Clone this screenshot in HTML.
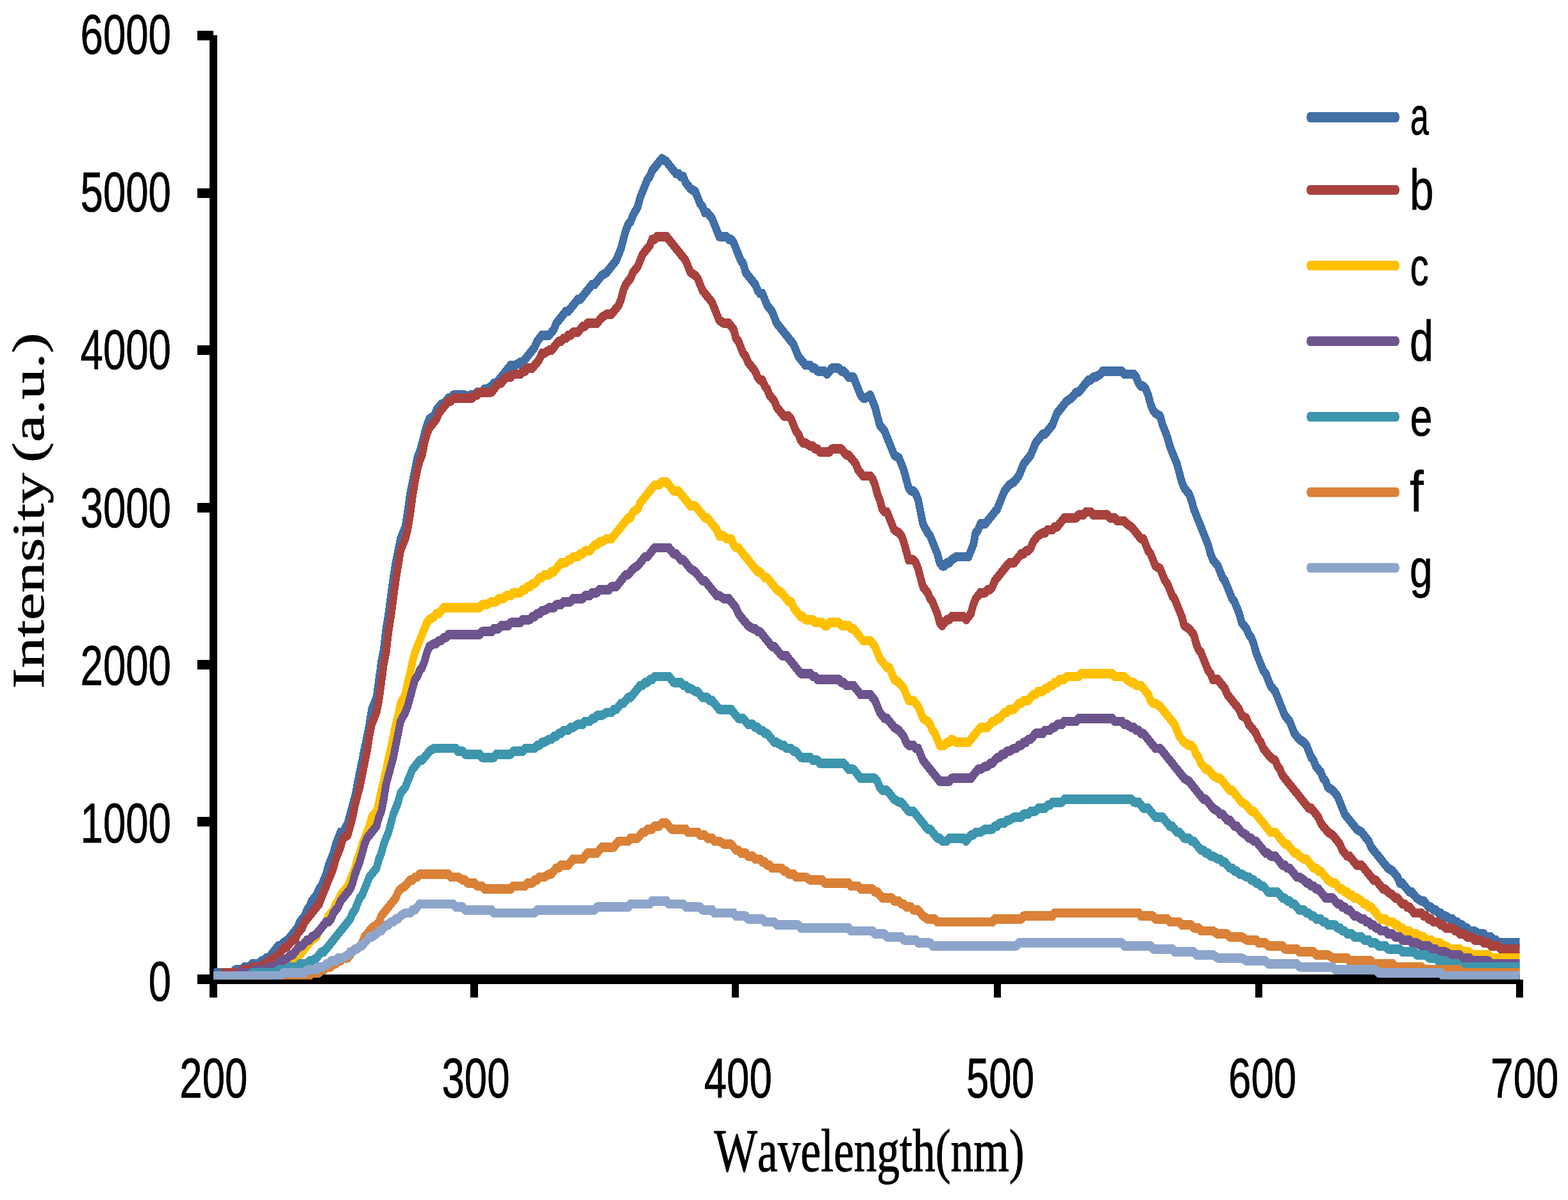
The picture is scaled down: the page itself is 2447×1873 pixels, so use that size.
<!DOCTYPE html>
<html lang="en"><head><meta charset="utf-8"><title>Intensity vs Wavelength</title>
<style>
html,body{margin:0;padding:0;background:#fff;}
body{width:2447px;height:1873px;overflow:hidden;}
svg{display:block;}
text{font-kerning:none;text-rendering:geometricPrecision;fill:#000;stroke:#000;stroke-linejoin:round;}
.num{stroke-width:0.8;}.ser{stroke-width:1.0;}
.num{font-family:"Liberation Sans",sans-serif;}
.ser{font-family:"Liberation Serif",serif;}
.crv{fill:none;stroke-linejoin:round;stroke-linecap:butt;}
</style></head><body>
<svg width="2447" height="1873" viewBox="0 0 2447 1873">
<rect x="0" y="0" width="2447" height="1873" fill="#ffffff"/>
<g id="axes" fill="#000000" shape-rendering="crispEdges">
<rect x="327.3" y="55.3" width="12" height="1501.4"/>
<rect x="333.3" y="1521.1" width="2038.3" height="15"/>
<rect x="308" y="48" width="25.3" height="15"/>
<rect x="308" y="293.5" width="25.3" height="15"/>
<rect x="308" y="539" width="25.3" height="15"/>
<rect x="308" y="784.5" width="25.3" height="15"/>
<rect x="308" y="1029.8" width="25.3" height="15"/>
<rect x="308" y="1275.1" width="25.3" height="15"/>
<rect x="308" y="1521.1" width="25.3" height="15"/>
<rect x="327.5" y="1528.6" width="11.6" height="28.1"/>
<rect x="734.2" y="1528.6" width="11.6" height="28.1"/>
<rect x="1141.7" y="1528.6" width="11.6" height="28.1"/>
<rect x="1550.7" y="1528.6" width="11.6" height="28.1"/>
<rect x="1958.8" y="1528.6" width="11.6" height="28.1"/>
<rect x="2365.8" y="1528.6" width="11.6" height="28.1"/>
</g>
<defs><clipPath id="plotclip"><rect x="333.3" y="55.3" width="2038.3" height="1473.5"/></clipPath></defs>
<g id="plot" clip-path="url(#plotclip)">
<g id="curves" class="crv" transform="scale(0.8,1)" stroke-width="14.8" shape-rendering="crispEdges">
<polyline id="series-a" stroke="#416FA6" points="416.6,1523.1 421.2,1518.4 454,1518.4 458.8,1513.8 472.7,1513.8 477.4,1509.1 486.7,1509.1 491.4,1504.4 505.5,1504.4 510.1,1499.8 514.8,1499.8 519.5,1495.1 524.1,1495.1 528.9,1490.4 533.5,1485.7 538.1,1481.1 542.9,1476.4 547.5,1476.4 552.2,1471.7 561.5,1467.1 566.2,1462.4 570.9,1457.7 575.6,1453 580.2,1448.4 584.9,1439 589.6,1434.4 594.2,1429.7 599,1420.3 603.6,1415.7 608.2,1406.3 617.6,1397 622.4,1387.6 627,1383 631.6,1373.6 636.4,1364.3 641,1350.3 645.8,1340.9 650.4,1331.6 655,1317.6 659.7,1308.2 664.4,1298.9 669.1,1298.9 678.4,1284.8 683.1,1270.8 687.8,1256.8 692.5,1242.8 697.1,1224.1 701.7,1205.4 706.5,1186.7 711.1,1168 715.9,1149.4 720.5,1130.7 725.1,1107.3 734.5,1088.6 739.2,1060.6 743.9,1032.6 748.5,1013.9 753.2,981.2 757.9,957.8 762.6,929.8 767.2,901.7 771.9,878.4 776.6,859.7 781.2,841 790.6,822.3 795.2,799 800,770.9 804.6,752.2 809.4,733.6 814,714.9 818.6,705.5 823.4,691.5 828,677.5 832.8,663.5 837.4,654.1 846.7,649.5 851.4,640.1 856.1,635.4 860.8,630.8 865.4,630.8 870.1,626.1 874.7,621.4 879.5,621.4 884.1,616.8 907.5,616.8 912.1,621.4 916.9,616.8 926.2,616.8 930.9,612.1 940.2,612.1 944.9,607.4 949.6,607.4 958.9,602.7 963.6,598.1 968.2,598.1 973,593.4 977.6,588.7 982.2,584 987,579.4 991.6,574.7 996.4,570 1005.6,570 1015,565.4 1019.7,565.4 1024.4,560.7 1029,556 1033.8,551.3 1038.4,546.7 1043.1,542 1047.8,532.7 1052.4,528 1057.1,523.3 1071.1,523.3 1075.8,518.6 1080.5,514 1085.1,504.6 1089.9,500 1094.5,495.3 1099.1,490.6 1103.9,485.9 1108.5,485.9 1113.2,481.3 1117.9,476.6 1127.2,467.2 1131.9,467.2 1136.6,462.6 1141.2,457.9 1145.9,453.2 1150.6,448.6 1155.2,443.9 1160,443.9 1164.6,439.2 1169.2,434.5 1174,429.9 1183.4,425.2 1188,420.5 1192.6,415.9 1197.4,411.2 1202,406.5 1206.8,397.2 1211.4,387.8 1216,373.8 1220.8,359.8 1225.4,350.4 1230.1,345.8 1234.7,336.4 1244.1,322.4 1248.8,308.4 1253.5,299.1 1258.1,289.7 1262.8,280.4 1267.5,275.7 1272.1,266.4 1276.9,261.7 1281.5,257 1286.1,252.3 1290.9,247.7 1300.2,252.3 1304.9,257 1309.5,261.7 1314.2,266.4 1318.9,271 1323.6,271 1328.2,275.7 1332.9,275.7 1337.6,285 1342.2,289.7 1347,294.4 1356.2,299.1 1361,308.4 1365.6,317.7 1370.4,322.4 1375,331.8 1379.6,331.8 1384.4,336.4 1389,341.1 1393.8,350.4 1398.4,359.8 1403,369.1 1417.1,369.1 1421.8,373.8 1426.4,373.8 1431.1,378.5 1435.7,387.8 1440.5,397.2 1445.1,406.5 1449.7,411.2 1454.5,425.2 1459.1,429.9 1468.5,439.2 1473.1,443.9 1477.9,453.2 1482.5,457.9 1487.2,457.9 1491.9,467.2 1496.5,476.6 1501.2,481.3 1505.9,485.9 1510.6,495.3 1515.2,504.6 1524.6,514 1529.2,518.6 1534,523.3 1538.6,528 1543.2,532.7 1548,537.3 1552.6,546.7 1557.4,556 1562,560.7 1566.6,565.4 1571.4,570 1580.7,570 1585.4,574.7 1590,574.7 1594.7,579.4 1608.8,579.4 1613.4,584 1618.1,579.4 1622.8,574.7 1636.8,574.7 1641.5,579.4 1646.1,579.4 1650.9,584 1655.5,588.7 1664.9,588.7 1669.5,598.1 1674.2,607.4 1678.9,616.8 1683.5,621.4 1688.2,621.4 1697.6,616.8 1702.2,626.1 1706.9,635.4 1711.6,649.5 1716.2,663.5 1721,668.1 1725.6,672.8 1730.2,682.2 1735,691.5 1739.6,700.8 1744.4,710.2 1753.6,714.9 1758.4,724.2 1763,733.6 1767.8,747.6 1772.4,761.6 1777,766.3 1781.8,766.3 1786.4,770.9 1791.1,780.3 1795.7,799 1800.4,817.6 1809.7,831.7 1814.5,836.3 1819.1,845.7 1823.8,855 1828.5,864.4 1833.1,878.4 1837.9,883.1 1842.5,883.1 1847.1,878.4 1851.9,878.4 1856.5,873.7 1865.9,869 1889.2,869 1893.9,859.7 1898.6,850.4 1903.2,831.7 1908,827 1912.6,817.6 1922,817.6 1926.6,813 1931.4,808.3 1936,803.6 1940.6,799 1945.4,794.3 1950,784.9 1954.7,775.6 1959.4,766.3 1964,761.6 1968.8,756.9 1978.1,752.2 1982.8,747.6 1987.4,742.9 1992.1,733.6 1996.8,724.2 2001.5,719.5 2006.1,714.9 2010.7,710.2 2015.5,700.8 2020.1,691.5 2024.9,686.8 2034.1,677.5 2038.9,677.5 2043.5,672.8 2048.2,668.1 2052.9,663.5 2057.5,654.1 2062.2,644.8 2066.9,640.1 2071.6,635.4 2076.2,630.8 2080.9,626.1 2090.2,621.4 2095,616.8 2099.6,612.1 2104.2,612.1 2109,607.4 2113.6,602.7 2118.4,598.1 2123,593.4 2127.6,593.4 2132.4,588.7 2137,588.7 2146.4,584 2151,579.4 2188.5,579.4 2193.1,584 2211.9,584 2216.5,588.7 2221.1,598.1 2225.9,602.7 2230.5,602.7 2235.2,607.4 2239.9,616.8 2244.5,630.8 2249.2,640.1 2253.9,644.8 2263.2,649.5 2267.9,663.5 2272.6,672.8 2277.2,682.2 2282,696.2 2286.6,705.5 2291.2,714.9 2296,724.2 2300.6,738.2 2305.4,752.2 2310,761.6 2319.4,770.9 2324,780.3 2328.8,794.3 2333.4,803.6 2338,813 2342.8,822.3 2347.4,831.7 2352.1,841 2356.8,850.4 2361.4,864.4 2366.1,873.7 2375.5,883.1 2380.1,892.4 2384.8,901.7 2389.5,906.4 2394.1,915.8 2398.9,925.1 2403.5,934.4 2408.1,939.1 2412.9,948.5 2417.5,957.8 2422.2,971.8 2431.5,981.2 2436.2,990.5 2440.9,995.2 2445.6,1004.5 2450.2,1018.5 2454.9,1027.9 2459.6,1037.2 2464.2,1046.6 2469,1051.2 2473.6,1060.6 2478.2,1069.9 2487.6,1079.3 2492.4,1088.6 2497,1098 2501.6,1107.3 2506.4,1116.7 2511,1121.3 2515.7,1126 2520.4,1135.3 2525,1144.7 2529.8,1149.4 2534.4,1154 2543.8,1158.7 2548.4,1163.4 2553.1,1172.7 2557.8,1182.1 2562.5,1186.7 2567.1,1196.1 2571.8,1200.8 2576.5,1205.4 2581.1,1214.8 2585.9,1219.4 2590.5,1228.8 2599.9,1233.5 2604.5,1238.1 2609.2,1242.8 2613.9,1252.1 2618.5,1261.5 2623.2,1270.8 2627.9,1275.5 2632.6,1280.2 2637.2,1284.8 2641.9,1289.5 2646.6,1294.2 2656,1298.9 2660.6,1303.5 2665.2,1308.2 2670,1312.9 2674.6,1322.2 2679.4,1326.9 2684,1331.6 2688.6,1336.2 2693.4,1340.9 2698,1345.6 2702.7,1350.3 2707.4,1354.9 2716.8,1359.6 2721.4,1364.3 2726.1,1368.9 2730.7,1378.3 2735.4,1378.3 2740.1,1383 2744.8,1387.6 2749.5,1392.3 2754.1,1392.3 2758.8,1397 2763.5,1401.6 2772.9,1406.3 2777.5,1406.3 2782.1,1411 2786.9,1415.7 2791.5,1415.7 2796.2,1420.3 2800.9,1420.3 2805.5,1425 2810.2,1425 2814.9,1429.7 2819.6,1429.7 2828.9,1434.4 2833.6,1434.4 2838.2,1439 2843,1439 2847.6,1443.7 2852.2,1443.7 2857,1448.4 2861.6,1448.4 2866.4,1453 2875.6,1453 2885,1457.7 2894.4,1457.7 2899,1462.4 2908.4,1462.4 2913.1,1467.1 2917.7,1467.1 2922.4,1471.7 2964.5,1471.7"/>
<polyline id="series-b" stroke="#A8423F" points="416.6,1523.1 430.6,1523.1 435.4,1518.4 468,1518.4 472.7,1513.8 486.7,1513.8 491.4,1509.1 510.1,1509.1 514.8,1504.4 519.5,1504.4 524.1,1499.8 528.9,1499.8 533.5,1495.1 538.1,1495.1 542.9,1490.4 547.5,1485.7 552.2,1481.1 561.5,1476.4 566.2,1471.7 570.9,1467.1 575.6,1467.1 580.2,1457.7 584.9,1453 589.6,1448.4 594.2,1439 599,1434.4 603.6,1429.7 608.2,1425 617.6,1415.7 622.4,1411 627,1401.6 631.6,1392.3 636.4,1383 641,1373.6 645.8,1364.3 650.4,1354.9 655,1340.9 659.7,1331.6 664.4,1322.2 669.1,1308.2 678.4,1303.5 683.1,1289.5 687.8,1275.5 692.5,1256.8 697.1,1242.8 701.7,1228.8 706.5,1210.1 711.1,1191.4 715.9,1172.7 720.5,1149.4 725.1,1130.7 734.5,1112 739.2,1093.3 743.9,1065.3 748.5,1037.2 753.2,1018.5 757.9,985.8 762.6,962.5 767.2,934.4 771.9,906.4 776.6,883.1 781.2,859.7 790.6,841 795.2,827 800,803.6 804.6,775.6 809.4,752.2 814,733.6 818.6,719.5 823.4,710.2 828,691.5 832.8,677.5 837.4,668.1 846.7,658.8 851.4,654.1 856.1,644.8 860.8,640.1 865.4,635.4 870.1,630.8 874.7,626.1 879.5,626.1 884.1,621.4 921.5,621.4 926.2,616.8 930.9,616.8 935.5,612.1 958.9,612.1 963.6,607.4 968.2,602.7 973,598.1 977.6,598.1 982.2,593.4 987,588.7 996.4,588.7 1001,584 1015,584 1019.7,579.4 1024.4,579.4 1029,574.7 1038.4,574.7 1043.1,570 1047.8,565.4 1052.4,560.7 1057.1,551.3 1061.8,551.3 1071.1,546.7 1075.8,546.7 1080.5,542 1085.1,537.3 1089.9,532.7 1094.5,532.7 1099.1,528 1103.9,528 1108.5,523.3 1113.2,523.3 1117.9,518.6 1127.2,518.6 1131.9,514 1136.6,509.3 1141.2,509.3 1145.9,504.6 1164.6,504.6 1169.2,500 1174,495.3 1183.4,490.6 1192.6,490.6 1197.4,485.9 1202,481.3 1206.8,476.6 1211.4,467.2 1216,453.2 1220.8,443.9 1225.4,439.2 1230.1,434.5 1234.7,425.2 1244.1,415.9 1248.8,406.5 1253.5,397.2 1258.1,392.5 1262.8,387.8 1267.5,383.2 1272.1,373.8 1276.9,373.8 1281.5,369.1 1300.2,369.1 1304.9,373.8 1309.5,378.5 1314.2,383.2 1318.9,387.8 1323.6,392.5 1328.2,397.2 1332.9,401.8 1337.6,406.5 1342.2,415.9 1347,425.2 1356.2,429.9 1361,434.5 1365.6,443.9 1370.4,453.2 1375,457.9 1379.6,462.6 1384.4,467.2 1389,471.9 1393.8,481.3 1398.4,490.6 1403,500 1412.4,504.6 1421.8,504.6 1426.4,509.3 1431.1,514 1435.7,528 1440.5,532.7 1445.1,542 1449.7,551.3 1454.5,556 1459.1,565.4 1468.5,574.7 1473.1,579.4 1477.9,588.7 1482.5,593.4 1487.2,593.4 1491.9,602.7 1496.5,607.4 1501.2,616.8 1505.9,621.4 1510.6,626.1 1515.2,635.4 1524.6,644.8 1529.2,649.5 1538.6,649.5 1543.2,654.1 1548,663.5 1552.6,672.8 1557.4,677.5 1562,686.8 1566.6,691.5 1571.4,691.5 1580.7,696.2 1585.4,696.2 1590,700.8 1594.7,700.8 1599.4,705.5 1618.1,705.5 1622.8,700.8 1641.5,700.8 1646.1,705.5 1650.9,710.2 1655.5,710.2 1660.1,714.9 1664.9,719.5 1669.5,724.2 1674.2,733.6 1678.9,738.2 1683.5,742.9 1697.6,742.9 1702.2,747.6 1706.9,756.9 1711.6,770.9 1716.2,780.3 1721,794.3 1725.6,799 1730.2,799 1735,808.3 1739.6,817.6 1744.4,827 1753.6,831.7 1758.4,836.3 1763,845.7 1767.8,859.7 1772.4,873.7 1781.8,873.7 1786.4,878.4 1791.1,887.7 1795.7,901.7 1800.4,915.8 1809.7,925.1 1814.5,934.4 1819.1,939.1 1823.8,948.5 1828.5,957.8 1833.1,971.8 1837.9,976.5 1842.5,971.8 1847.1,967.2 1851.9,967.2 1856.5,962.5 1879.9,962.5 1884.6,967.2 1889.2,962.5 1893.9,957.8 1898.6,943.8 1903.2,934.4 1908,929.8 1912.6,925.1 1922,925.1 1926.6,920.4 1931.4,920.4 1936,915.8 1940.6,906.4 1945.4,901.7 1950,897.1 1954.7,892.4 1959.4,887.7 1964,883.1 1968.8,878.4 1978.1,878.4 1982.8,873.7 1987.4,869 1992.1,864.4 1996.8,864.4 2001.5,859.7 2006.1,859.7 2010.7,855 2015.5,845.7 2020.1,841 2024.9,836.3 2034.1,831.7 2038.9,831.7 2043.5,827 2052.9,827 2057.5,822.3 2062.2,822.3 2066.9,817.6 2071.6,813 2076.2,808.3 2099.6,808.3 2104.2,803.6 2113.6,803.6 2118.4,799 2127.6,799 2132.4,803.6 2160.4,803.6 2165.1,808.3 2174.4,808.3 2179.1,813 2193.1,813 2197.8,817.6 2207.1,822.3 2211.9,827 2216.5,831.7 2221.1,836.3 2225.9,841 2230.5,841 2235.2,850.4 2239.9,859.7 2244.5,864.4 2249.2,873.7 2253.9,883.1 2263.2,887.7 2267.9,897.1 2272.6,906.4 2277.2,911.1 2282,920.4 2286.6,929.8 2291.2,934.4 2296,943.8 2300.6,953.1 2305.4,962.5 2310,976.5 2319.4,981.2 2324,985.8 2328.8,990.5 2333.4,1004.5 2338,1013.9 2342.8,1018.5 2347.4,1027.9 2352.1,1037.2 2356.8,1046.6 2361.4,1051.2 2366.1,1060.6 2375.5,1060.6 2380.1,1065.3 2384.8,1069.9 2389.5,1074.6 2394.1,1084 2398.9,1088.6 2403.5,1093.3 2408.1,1098 2412.9,1102.6 2417.5,1107.3 2422.2,1116.7 2431.5,1121.3 2436.2,1130.7 2440.9,1135.3 2445.6,1140 2450.2,1144.7 2454.9,1154 2459.6,1158.7 2464.2,1168 2469,1172.7 2473.6,1177.4 2478.2,1182.1 2487.6,1186.7 2492.4,1196.1 2497,1200.8 2501.6,1210.1 2506.4,1214.8 2511,1219.4 2515.7,1224.1 2520.4,1228.8 2525,1233.5 2529.8,1238.1 2534.4,1242.8 2543.8,1252.1 2548.4,1256.8 2553.1,1261.5 2557.8,1261.5 2562.5,1266.2 2567.1,1270.8 2571.8,1275.5 2576.5,1284.8 2581.1,1289.5 2585.9,1294.2 2590.5,1298.9 2599.9,1303.5 2604.5,1308.2 2609.2,1312.9 2613.9,1317.6 2618.5,1326.9 2623.2,1331.6 2627.9,1336.2 2632.6,1336.2 2637.2,1340.9 2641.9,1345.6 2646.6,1350.3 2656,1350.3 2660.6,1354.9 2665.2,1359.6 2670,1364.3 2674.6,1368.9 2679.4,1373.6 2684,1373.6 2688.6,1378.3 2693.4,1383 2698,1387.6 2702.7,1387.6 2707.4,1392.3 2716.8,1397 2721.4,1401.6 2726.1,1401.6 2730.7,1406.3 2735.4,1411 2740.1,1411 2744.8,1415.7 2749.5,1415.7 2754.1,1420.3 2758.8,1425 2772.9,1425 2777.5,1429.7 2782.1,1429.7 2786.9,1434.4 2791.5,1434.4 2796.2,1439 2805.5,1439 2810.2,1443.7 2814.9,1443.7 2819.6,1448.4 2833.6,1448.4 2838.2,1453 2843,1453 2847.6,1457.7 2857,1457.7 2861.6,1462.4 2871,1462.4 2875.6,1467.1 2889.8,1467.1 2894.4,1471.7 2903.8,1471.7 2908.4,1476.4 2922.4,1476.4 2927.1,1481.1 2964.5,1481.1"/>
<polyline id="series-c" stroke="#FFC000" points="416.6,1523.1 524.1,1523.1 528.9,1518.4 547.5,1518.4 552.2,1513.8 561.5,1509.1 566.2,1509.1 570.9,1504.4 575.6,1499.8 580.2,1495.1 584.9,1490.4 589.6,1485.7 594.2,1481.1 599,1476.4 603.6,1471.7 608.2,1467.1 617.6,1462.4 622.4,1453 627,1448.4 631.6,1443.7 636.4,1439 641,1429.7 645.8,1425 650.4,1420.3 655,1411 659.7,1406.3 664.4,1397 669.1,1392.3 678.4,1383 683.1,1373.6 687.8,1364.3 692.5,1354.9 697.1,1340.9 701.7,1331.6 706.5,1317.6 711.1,1308.2 715.9,1298.9 720.5,1289.5 725.1,1275.5 734.5,1266.2 739.2,1252.1 743.9,1233.5 748.5,1219.4 753.2,1200.8 757.9,1182.1 762.6,1168 767.2,1149.4 771.9,1130.7 776.6,1116.7 781.2,1098 790.6,1084 795.2,1065.3 800,1051.2 804.6,1032.6 809.4,1018.5 814,1009.2 818.6,999.9 823.4,990.5 828,981.2 832.8,971.8 837.4,967.2 846.7,962.5 851.4,957.8 856.1,957.8 860.8,953.1 865.4,948.5 935.5,948.5 940.2,943.8 949.6,943.8 958.9,939.1 968.2,939.1 973,934.4 982.2,934.4 987,929.8 996.4,929.8 1001,925.1 1015,925.1 1019.7,920.4 1024.4,920.4 1029,915.8 1033.8,915.8 1038.4,911.1 1043.1,911.1 1047.8,906.4 1052.4,901.7 1057.1,901.7 1061.8,897.1 1071.1,897.1 1075.8,892.4 1080.5,892.4 1085.1,887.7 1089.9,883.1 1094.5,878.4 1103.9,878.4 1108.5,873.7 1113.2,873.7 1117.9,869 1127.2,869 1131.9,864.4 1136.6,864.4 1141.2,859.7 1150.6,859.7 1155.2,855 1160,850.4 1164.6,850.4 1169.2,845.7 1174,845.7 1183.4,841 1192.6,841 1197.4,836.3 1202,831.7 1206.8,827 1211.4,822.3 1216,817.6 1220.8,813 1225.4,808.3 1230.1,808.3 1234.7,799 1244.1,794.3 1248.8,784.9 1253.5,780.3 1258.1,775.6 1262.8,770.9 1267.5,766.3 1272.1,761.6 1276.9,756.9 1286.1,756.9 1290.9,752.2 1300.2,752.2 1304.9,756.9 1309.5,761.6 1314.2,766.3 1323.6,766.3 1328.2,770.9 1332.9,775.6 1337.6,780.3 1342.2,784.9 1347,789.6 1356.2,789.6 1361,794.3 1365.6,799 1370.4,803.6 1375,808.3 1379.6,808.3 1384.4,813 1389,817.6 1393.8,822.3 1398.4,827 1403,836.3 1412.4,836.3 1417.1,841 1426.4,841 1431.1,850.4 1435.7,855 1440.5,855 1445.1,859.7 1449.7,864.4 1454.5,869 1459.1,873.7 1468.5,883.1 1473.1,887.7 1477.9,892.4 1482.5,892.4 1487.2,897.1 1491.9,901.7 1496.5,901.7 1501.2,906.4 1505.9,911.1 1510.6,915.8 1515.2,920.4 1524.6,925.1 1529.2,929.8 1534,934.4 1538.6,939.1 1543.2,939.1 1548,948.5 1552.6,953.1 1557.4,957.8 1562,962.5 1566.6,962.5 1571.4,967.2 1585.4,967.2 1590,971.8 1604.1,971.8 1608.8,976.5 1613.4,976.5 1618.1,971.8 1636.8,971.8 1641.5,976.5 1655.5,976.5 1660.1,981.2 1664.9,981.2 1669.5,985.8 1674.2,990.5 1678.9,995.2 1683.5,999.9 1697.6,999.9 1702.2,1004.5 1706.9,1009.2 1711.6,1018.5 1716.2,1027.9 1721,1032.6 1725.6,1037.2 1730.2,1041.9 1735,1041.9 1739.6,1051.2 1744.4,1060.6 1753.6,1065.3 1758.4,1069.9 1763,1074.6 1767.8,1084 1772.4,1093.3 1781.8,1093.3 1786.4,1098 1791.1,1102.6 1795.7,1112 1800.4,1121.3 1809.7,1126 1814.5,1130.7 1819.1,1140 1823.8,1144.7 1828.5,1154 1833.1,1163.4 1842.5,1163.4 1847.1,1158.7 1851.9,1158.7 1856.5,1154 1865.9,1158.7 1889.2,1158.7 1893.9,1154 1898.6,1149.4 1903.2,1144.7 1908,1140 1912.6,1135.3 1926.6,1135.3 1931.4,1130.7 1936,1126 1940.6,1126 1945.4,1121.3 1950,1121.3 1954.7,1116.7 1959.4,1112 1964,1112 1968.8,1107.3 1978.1,1107.3 1982.8,1102.6 1987.4,1098 1992.1,1098 1996.8,1093.3 2006.1,1093.3 2010.7,1088.6 2015.5,1084 2020.1,1084 2024.9,1079.3 2034.1,1079.3 2038.9,1074.6 2043.5,1074.6 2048.2,1069.9 2052.9,1069.9 2057.5,1065.3 2062.2,1065.3 2066.9,1060.6 2076.2,1060.6 2080.9,1055.9 2104.2,1055.9 2109,1051.2 2169.8,1051.2 2174.4,1055.9 2193.1,1055.9 2197.8,1060.6 2207.1,1065.3 2211.9,1065.3 2216.5,1069.9 2225.9,1069.9 2230.5,1074.6 2235.2,1079.3 2239.9,1084 2244.5,1093.3 2249.2,1098 2253.9,1098 2263.2,1102.6 2267.9,1107.3 2272.6,1112 2277.2,1116.7 2282,1121.3 2286.6,1126 2291.2,1130.7 2296,1140 2300.6,1149.4 2305.4,1154 2310,1158.7 2319.4,1163.4 2324,1163.4 2328.8,1168 2333.4,1177.4 2338,1182.1 2342.8,1191.4 2347.4,1196.1 2352.1,1200.8 2356.8,1200.8 2361.4,1205.4 2366.1,1210.1 2375.5,1214.8 2380.1,1214.8 2384.8,1219.4 2389.5,1224.1 2394.1,1228.8 2398.9,1233.5 2403.5,1233.5 2408.1,1238.1 2412.9,1242.8 2417.5,1247.5 2422.2,1252.1 2431.5,1256.8 2436.2,1261.5 2440.9,1266.2 2445.6,1266.2 2450.2,1270.8 2454.9,1275.5 2459.6,1280.2 2464.2,1284.8 2469,1289.5 2473.6,1294.2 2478.2,1298.9 2487.6,1298.9 2492.4,1303.5 2497,1308.2 2501.6,1312.9 2506.4,1317.6 2511,1317.6 2515.7,1322.2 2520.4,1326.9 2525,1331.6 2529.8,1331.6 2534.4,1336.2 2543.8,1340.9 2548.4,1340.9 2553.1,1345.6 2557.8,1350.3 2562.5,1354.9 2567.1,1354.9 2571.8,1359.6 2576.5,1359.6 2581.1,1364.3 2585.9,1368.9 2590.5,1373.6 2599.9,1378.3 2604.5,1378.3 2609.2,1383 2613.9,1387.6 2618.5,1387.6 2623.2,1392.3 2627.9,1392.3 2632.6,1397 2637.2,1397 2641.9,1401.6 2646.6,1401.6 2656,1406.3 2660.6,1411 2665.2,1411 2670,1415.7 2674.6,1415.7 2679.4,1420.3 2684,1425 2688.6,1429.7 2693.4,1434.4 2702.7,1434.4 2707.4,1439 2716.8,1439 2721.4,1443.7 2726.1,1443.7 2730.7,1448.4 2735.4,1448.4 2740.1,1453 2749.5,1453 2754.1,1457.7 2763.5,1457.7 2772.9,1462.4 2777.5,1462.4 2782.1,1467.1 2791.5,1467.1 2796.2,1471.7 2810.2,1471.7 2814.9,1476.4 2819.6,1476.4 2828.9,1481.1 2847.6,1481.1 2852.2,1485.7 2866.4,1485.7 2871,1490.4 2903.8,1490.4 2908.4,1495.1 2964.5,1495.1"/>
<polyline id="series-d" stroke="#6E548D" points="416.6,1523.1 463.4,1523.1 468,1518.4 491.4,1518.4 496.1,1513.8 519.5,1513.8 524.1,1509.1 538.1,1509.1 542.9,1504.4 547.5,1499.8 552.2,1499.8 561.5,1495.1 566.2,1490.4 570.9,1490.4 575.6,1485.7 580.2,1481.1 584.9,1476.4 589.6,1476.4 594.2,1471.7 599,1467.1 603.6,1467.1 608.2,1462.4 617.6,1457.7 622.4,1453 627,1448.4 631.6,1443.7 636.4,1439 641,1439 645.8,1434.4 650.4,1425 655,1420.3 659.7,1415.7 664.4,1406.3 669.1,1401.6 678.4,1392.3 683.1,1387.6 687.8,1378.3 692.5,1364.3 697.1,1354.9 701.7,1345.6 706.5,1331.6 711.1,1317.6 715.9,1308.2 720.5,1303.5 725.1,1298.9 734.5,1289.5 739.2,1275.5 743.9,1266.2 748.5,1247.5 753.2,1224.1 757.9,1210.1 762.6,1196.1 767.2,1182.1 771.9,1163.4 776.6,1144.7 781.2,1126 790.6,1112 795.2,1102.6 800,1088.6 804.6,1074.6 809.4,1060.6 814,1055.9 818.6,1046.6 823.4,1041.9 828,1032.6 832.8,1018.5 837.4,1009.2 846.7,1004.5 851.4,1004.5 856.1,999.9 860.8,999.9 865.4,995.2 870.1,995.2 874.7,990.5 935.5,990.5 940.2,985.8 958.9,985.8 963.6,981.2 973,981.2 977.6,976.5 991.6,976.5 996.4,971.8 1015,971.8 1019.7,967.2 1033.8,967.2 1038.4,962.5 1043.1,962.5 1047.8,957.8 1052.4,957.8 1057.1,953.1 1061.8,953.1 1071.1,948.5 1080.5,948.5 1085.1,943.8 1094.5,943.8 1099.1,939.1 1113.2,939.1 1117.9,934.4 1136.6,934.4 1141.2,929.8 1150.6,929.8 1155.2,925.1 1164.6,925.1 1169.2,920.4 1188,920.4 1192.6,915.8 1202,915.8 1206.8,911.1 1211.4,906.4 1216,901.7 1220.8,897.1 1225.4,897.1 1230.1,892.4 1234.7,887.7 1244.1,883.1 1248.8,878.4 1253.5,873.7 1258.1,869 1262.8,869 1267.5,864.4 1272.1,859.7 1276.9,855 1304.9,855 1309.5,859.7 1314.2,864.4 1318.9,864.4 1323.6,869 1328.2,873.7 1332.9,873.7 1337.6,878.4 1342.2,883.1 1347,887.7 1356.2,892.4 1361,897.1 1365.6,901.7 1370.4,906.4 1375,906.4 1379.6,911.1 1384.4,915.8 1389,920.4 1393.8,925.1 1398.4,929.8 1403,929.8 1412.4,934.4 1421.8,934.4 1426.4,939.1 1431.1,943.8 1435.7,948.5 1440.5,957.8 1445.1,962.5 1449.7,967.2 1454.5,971.8 1459.1,976.5 1468.5,981.2 1473.1,981.2 1477.9,985.8 1482.5,985.8 1487.2,990.5 1491.9,995.2 1496.5,999.9 1501.2,1004.5 1505.9,1009.2 1510.6,1009.2 1515.2,1013.9 1524.6,1023.2 1534,1023.2 1538.6,1027.9 1543.2,1032.6 1548,1037.2 1552.6,1041.9 1557.4,1046.6 1562,1051.2 1580.7,1051.2 1585.4,1055.9 1590,1055.9 1594.7,1060.6 1636.8,1060.6 1641.5,1065.3 1646.1,1065.3 1650.9,1069.9 1664.9,1069.9 1669.5,1074.6 1674.2,1079.3 1678.9,1084 1697.6,1084 1702.2,1088.6 1706.9,1093.3 1711.6,1102.6 1716.2,1112 1721,1116.7 1725.6,1121.3 1730.2,1121.3 1735,1126 1739.6,1130.7 1744.4,1135.3 1753.6,1140 1758.4,1144.7 1763,1149.4 1767.8,1158.7 1772.4,1163.4 1781.8,1163.4 1786.4,1168 1791.1,1168 1795.7,1177.4 1800.4,1186.7 1809.7,1196.1 1814.5,1200.8 1819.1,1205.4 1823.8,1210.1 1828.5,1214.8 1833.1,1219.4 1851.9,1219.4 1856.5,1214.8 1893.9,1214.8 1898.6,1210.1 1903.2,1205.4 1908,1200.8 1912.6,1200.8 1922,1196.1 1926.6,1196.1 1931.4,1191.4 1936,1191.4 1940.6,1186.7 1945.4,1182.1 1950,1182.1 1954.7,1177.4 1959.4,1177.4 1964,1172.7 1968.8,1172.7 1978.1,1168 1982.8,1168 1987.4,1163.4 1992.1,1163.4 1996.8,1158.7 2001.5,1158.7 2006.1,1154 2010.7,1154 2015.5,1149.4 2020.1,1144.7 2034.1,1144.7 2038.9,1140 2048.2,1140 2052.9,1135.3 2057.5,1135.3 2062.2,1130.7 2071.6,1130.7 2076.2,1126 2099.6,1126 2104.2,1121.3 2169.8,1121.3 2174.4,1126 2188.5,1126 2193.1,1130.7 2197.8,1130.7 2207.1,1135.3 2211.9,1135.3 2216.5,1140 2221.1,1140 2225.9,1144.7 2230.5,1144.7 2235.2,1149.4 2239.9,1154 2244.5,1158.7 2249.2,1163.4 2253.9,1168 2263.2,1168 2267.9,1172.7 2272.6,1177.4 2277.2,1182.1 2282,1186.7 2286.6,1191.4 2291.2,1196.1 2296,1200.8 2300.6,1205.4 2305.4,1210.1 2310,1214.8 2319.4,1219.4 2324,1224.1 2328.8,1228.8 2333.4,1233.5 2338,1238.1 2342.8,1242.8 2347.4,1247.5 2352.1,1247.5 2356.8,1252.1 2361.4,1256.8 2366.1,1261.5 2375.5,1266.2 2380.1,1270.8 2384.8,1270.8 2389.5,1275.5 2394.1,1280.2 2398.9,1280.2 2403.5,1284.8 2408.1,1289.5 2412.9,1289.5 2417.5,1294.2 2422.2,1298.9 2431.5,1303.5 2436.2,1308.2 2440.9,1308.2 2445.6,1312.9 2450.2,1312.9 2454.9,1317.6 2459.6,1322.2 2464.2,1326.9 2469,1331.6 2473.6,1331.6 2478.2,1336.2 2487.6,1336.2 2492.4,1340.9 2497,1345.6 2501.6,1350.3 2506.4,1350.3 2511,1354.9 2515.7,1354.9 2520.4,1359.6 2525,1364.3 2529.8,1368.9 2534.4,1368.9 2543.8,1373.6 2548.4,1378.3 2553.1,1378.3 2557.8,1383 2562.5,1383 2567.1,1387.6 2571.8,1387.6 2576.5,1392.3 2581.1,1397 2585.9,1401.6 2599.9,1401.6 2604.5,1406.3 2609.2,1411 2613.9,1411 2618.5,1415.7 2623.2,1415.7 2627.9,1420.3 2632.6,1420.3 2637.2,1425 2641.9,1429.7 2646.6,1429.7 2656,1434.4 2660.6,1434.4 2665.2,1439 2670,1439 2674.6,1443.7 2679.4,1443.7 2684,1448.4 2688.6,1448.4 2693.4,1453 2702.7,1453 2707.4,1457.7 2716.8,1457.7 2721.4,1462.4 2730.7,1462.4 2735.4,1467.1 2749.5,1467.1 2754.1,1471.7 2763.5,1471.7 2772.9,1476.4 2786.9,1476.4 2791.5,1481.1 2800.9,1481.1 2805.5,1485.7 2819.6,1485.7 2828.9,1490.4 2847.6,1490.4 2852.2,1495.1 2866.4,1495.1 2871,1499.8 2903.8,1499.8 2908.4,1504.4 2964.5,1504.4"/>
<polyline id="series-e" stroke="#3D96AE" points="416.6,1523.1 486.7,1523.1 491.4,1518.4 538.1,1518.4 542.9,1513.8 561.5,1513.8 566.2,1509.1 580.2,1509.1 584.9,1504.4 599,1504.4 603.6,1499.8 608.2,1499.8 617.6,1495.1 622.4,1490.4 627,1485.7 631.6,1485.7 636.4,1481.1 641,1476.4 645.8,1471.7 650.4,1467.1 655,1462.4 659.7,1457.7 664.4,1453 669.1,1448.4 678.4,1439 683.1,1434.4 687.8,1425 692.5,1420.3 697.1,1411 701.7,1401.6 706.5,1397 711.1,1387.6 715.9,1378.3 720.5,1368.9 725.1,1364.3 734.5,1354.9 739.2,1340.9 743.9,1331.6 748.5,1317.6 753.2,1308.2 757.9,1298.9 762.6,1284.8 767.2,1270.8 771.9,1261.5 776.6,1252.1 781.2,1238.1 790.6,1228.8 795.2,1219.4 800,1210.1 804.6,1200.8 809.4,1196.1 814,1191.4 818.6,1186.7 823.4,1186.7 828,1182.1 832.8,1177.4 837.4,1172.7 846.7,1168 888.8,1168 893.5,1172.7 902.9,1172.7 907.5,1177.4 935.5,1177.4 940.2,1182.1 963.6,1182.1 968.2,1177.4 996.4,1177.4 1001,1172.7 1019.7,1172.7 1024.4,1168 1043.1,1168 1047.8,1163.4 1052.4,1163.4 1057.1,1158.7 1061.8,1158.7 1071.1,1154 1075.8,1154 1080.5,1149.4 1085.1,1149.4 1089.9,1144.7 1094.5,1144.7 1099.1,1140 1108.5,1140 1113.2,1135.3 1117.9,1135.3 1127.2,1130.7 1136.6,1130.7 1141.2,1126 1150.6,1126 1155.2,1121.3 1160,1121.3 1164.6,1116.7 1174,1116.7 1183.4,1112 1192.6,1112 1197.4,1107.3 1202,1107.3 1206.8,1102.6 1211.4,1098 1216,1098 1220.8,1093.3 1225.4,1088.6 1230.1,1088.6 1234.7,1084 1244.1,1074.6 1248.8,1069.9 1253.5,1069.9 1258.1,1065.3 1262.8,1065.3 1267.5,1060.6 1272.1,1060.6 1276.9,1055.9 1304.9,1055.9 1309.5,1060.6 1314.2,1065.3 1328.2,1065.3 1332.9,1069.9 1337.6,1069.9 1342.2,1074.6 1347,1074.6 1356.2,1079.3 1361,1079.3 1365.6,1084 1370.4,1088.6 1379.6,1088.6 1384.4,1093.3 1389,1093.3 1393.8,1098 1398.4,1102.6 1403,1107.3 1426.4,1107.3 1431.1,1112 1435.7,1116.7 1440.5,1121.3 1449.7,1121.3 1454.5,1126 1459.1,1130.7 1468.5,1130.7 1473.1,1135.3 1477.9,1135.3 1482.5,1140 1487.2,1140 1491.9,1144.7 1496.5,1144.7 1501.2,1149.4 1505.9,1154 1510.6,1158.7 1515.2,1158.7 1524.6,1163.4 1529.2,1163.4 1534,1168 1543.2,1168 1548,1172.7 1552.6,1172.7 1557.4,1177.4 1562,1182.1 1580.7,1182.1 1585.4,1186.7 1594.7,1186.7 1599.4,1191.4 1646.1,1191.4 1650.9,1196.1 1655.5,1200.8 1664.9,1200.8 1669.5,1205.4 1674.2,1210.1 1678.9,1214.8 1706.9,1214.8 1711.6,1219.4 1716.2,1228.8 1721,1233.5 1730.2,1233.5 1735,1238.1 1739.6,1242.8 1744.4,1247.5 1753.6,1252.1 1758.4,1252.1 1763,1256.8 1767.8,1261.5 1772.4,1266.2 1781.8,1266.2 1786.4,1270.8 1791.1,1275.5 1795.7,1280.2 1800.4,1284.8 1809.7,1294.2 1814.5,1294.2 1819.1,1298.9 1823.8,1303.5 1828.5,1308.2 1833.1,1308.2 1837.9,1312.9 1847.1,1312.9 1851.9,1308.2 1879.9,1308.2 1884.6,1312.9 1889.2,1308.2 1893.9,1303.5 1898.6,1303.5 1903.2,1298.9 1912.6,1298.9 1922,1294.2 1936,1294.2 1940.6,1289.5 1945.4,1289.5 1950,1284.8 1959.4,1284.8 1964,1280.2 1968.8,1280.2 1978.1,1275.5 1992.1,1275.5 1996.8,1270.8 2006.1,1270.8 2010.7,1266.2 2020.1,1266.2 2024.9,1261.5 2038.9,1261.5 2043.5,1256.8 2048.2,1256.8 2052.9,1252.1 2071.6,1252.1 2076.2,1247.5 2207.1,1247.5 2211.9,1252.1 2221.1,1252.1 2225.9,1256.8 2230.5,1261.5 2239.9,1261.5 2244.5,1266.2 2249.2,1270.8 2253.9,1275.5 2267.9,1275.5 2272.6,1280.2 2277.2,1284.8 2282,1289.5 2286.6,1289.5 2291.2,1294.2 2296,1298.9 2300.6,1298.9 2305.4,1303.5 2310,1308.2 2319.4,1308.2 2324,1312.9 2328.8,1312.9 2333.4,1317.6 2338,1322.2 2342.8,1326.9 2347.4,1326.9 2352.1,1331.6 2356.8,1331.6 2361.4,1336.2 2366.1,1336.2 2375.5,1340.9 2380.1,1340.9 2384.8,1345.6 2389.5,1345.6 2394.1,1350.3 2398.9,1354.9 2403.5,1354.9 2408.1,1359.6 2412.9,1359.6 2417.5,1364.3 2422.2,1364.3 2431.5,1368.9 2436.2,1368.9 2440.9,1373.6 2445.6,1373.6 2450.2,1378.3 2454.9,1378.3 2459.6,1383 2464.2,1383 2469,1387.6 2473.6,1392.3 2492.4,1392.3 2497,1397 2501.6,1401.6 2506.4,1401.6 2511,1406.3 2515.7,1406.3 2520.4,1411 2525,1411 2529.8,1415.7 2534.4,1420.3 2543.8,1420.3 2548.4,1425 2553.1,1425 2557.8,1429.7 2562.5,1429.7 2567.1,1434.4 2576.5,1434.4 2581.1,1439 2585.9,1439 2590.5,1443.7 2604.5,1443.7 2609.2,1448.4 2613.9,1448.4 2618.5,1453 2623.2,1453 2627.9,1457.7 2637.2,1457.7 2641.9,1462.4 2656,1462.4 2660.6,1467.1 2670,1467.1 2674.6,1471.7 2684,1471.7 2688.6,1476.4 2702.7,1476.4 2707.4,1481.1 2730.7,1481.1 2735.4,1485.7 2758.8,1485.7 2763.5,1490.4 2782.1,1490.4 2786.9,1495.1 2800.9,1495.1 2805.5,1499.8 2819.6,1499.8 2828.9,1504.4 2843,1504.4 2847.6,1509.1 2964.5,1509.1"/>
<polyline id="series-f" stroke="#DA8137" points="416.6,1527.8 589.6,1527.8 594.2,1523.1 603.6,1523.1 608.2,1518.4 622.4,1518.4 627,1513.8 631.6,1513.8 636.4,1509.1 645.8,1509.1 650.4,1504.4 655,1504.4 659.7,1499.8 664.4,1499.8 669.1,1495.1 678.4,1495.1 683.1,1490.4 687.8,1485.7 692.5,1481.1 697.1,1481.1 701.7,1476.4 706.5,1471.7 711.1,1462.4 715.9,1457.7 720.5,1453 725.1,1448.4 734.5,1443.7 739.2,1439 743.9,1429.7 748.5,1425 753.2,1420.3 757.9,1415.7 762.6,1411 767.2,1406.3 771.9,1401.6 776.6,1392.3 781.2,1387.6 790.6,1383 795.2,1378.3 800,1373.6 804.6,1373.6 809.4,1368.9 814,1368.9 818.6,1364.3 874.7,1364.3 879.5,1368.9 893.5,1368.9 902.9,1373.6 907.5,1373.6 912.1,1378.3 926.2,1378.3 930.9,1383 940.2,1383 944.9,1387.6 996.4,1387.6 1001,1383 1024.4,1383 1029,1378.3 1038.4,1378.3 1043.1,1373.6 1047.8,1373.6 1052.4,1368.9 1061.8,1368.9 1071.1,1364.3 1075.8,1364.3 1080.5,1359.6 1085.1,1354.9 1089.9,1354.9 1094.5,1350.3 1108.5,1350.3 1113.2,1345.6 1117.9,1340.9 1136.6,1340.9 1141.2,1336.2 1145.9,1331.6 1164.6,1331.6 1169.2,1326.9 1174,1322.2 1197.4,1322.2 1202,1317.6 1206.8,1312.9 1225.4,1312.9 1230.1,1308.2 1244.1,1308.2 1248.8,1303.5 1253.5,1298.9 1258.1,1298.9 1262.8,1294.2 1272.1,1294.2 1276.9,1289.5 1286.1,1289.5 1290.9,1284.8 1300.2,1284.8 1304.9,1289.5 1309.5,1294.2 1337.6,1294.2 1342.2,1298.9 1361,1298.9 1365.6,1303.5 1375,1303.5 1379.6,1308.2 1389,1308.2 1393.8,1312.9 1403,1312.9 1412.4,1317.6 1426.4,1317.6 1431.1,1322.2 1435.7,1326.9 1440.5,1326.9 1445.1,1331.6 1454.5,1331.6 1459.1,1336.2 1468.5,1336.2 1473.1,1340.9 1482.5,1340.9 1487.2,1345.6 1491.9,1345.6 1496.5,1350.3 1501.2,1350.3 1505.9,1354.9 1524.6,1354.9 1529.2,1359.6 1534,1359.6 1538.6,1364.3 1548,1364.3 1552.6,1368.9 1571.4,1368.9 1580.7,1373.6 1604.1,1373.6 1608.8,1378.3 1655.5,1378.3 1660.1,1383 1674.2,1383 1678.9,1387.6 1702.2,1387.6 1706.9,1392.3 1711.6,1392.3 1716.2,1397 1721,1401.6 1739.6,1401.6 1744.4,1406.3 1753.6,1406.3 1758.4,1411 1763,1411 1767.8,1415.7 1777,1415.7 1781.8,1420.3 1791.1,1420.3 1795.7,1425 1800.4,1429.7 1809.7,1434.4 1823.8,1434.4 1828.5,1439 1936,1439 1940.6,1434.4 1992.1,1434.4 1996.8,1429.7 2052.9,1429.7 2057.5,1425 2221.1,1425 2225.9,1429.7 2249.2,1429.7 2253.9,1434.4 2277.2,1434.4 2282,1439 2300.6,1439 2305.4,1443.7 2324,1443.7 2328.8,1448.4 2338,1448.4 2342.8,1453 2366.1,1453 2375.5,1457.7 2394.1,1457.7 2398.9,1462.4 2422.2,1462.4 2431.5,1467.1 2450.2,1467.1 2454.9,1471.7 2469,1471.7 2473.6,1476.4 2501.6,1476.4 2506.4,1481.1 2529.8,1481.1 2534.4,1485.7 2562.5,1485.7 2567.1,1490.4 2590.5,1490.4 2599.9,1495.1 2627.9,1495.1 2632.6,1499.8 2674.6,1499.8 2679.4,1504.4 2716.8,1504.4 2721.4,1509.1 2772.9,1509.1 2777.5,1513.8 2847.6,1513.8 2852.2,1518.4 2964.5,1518.4"/>
<polyline id="series-g" stroke="#8EA5CB" points="416.6,1523.1 547.5,1523.1 552.2,1518.4 594.2,1518.4 599,1513.8 617.6,1513.8 622.4,1509.1 631.6,1509.1 636.4,1504.4 641,1504.4 645.8,1499.8 655,1499.8 659.7,1495.1 669.1,1495.1 678.4,1490.4 683.1,1485.7 687.8,1485.7 692.5,1481.1 697.1,1481.1 701.7,1476.4 706.5,1476.4 711.1,1471.7 715.9,1467.1 720.5,1462.4 725.1,1462.4 734.5,1457.7 739.2,1453 743.9,1453 748.5,1448.4 753.2,1443.7 757.9,1443.7 762.6,1439 767.2,1439 771.9,1434.4 776.6,1434.4 781.2,1429.7 790.6,1425 800,1425 804.6,1420.3 809.4,1420.3 814,1415.7 818.6,1411 884.1,1411 888.8,1415.7 902.9,1415.7 907.5,1420.3 958.9,1420.3 963.6,1425 1043.1,1425 1047.8,1420.3 1160,1420.3 1164.6,1415.7 1225.4,1415.7 1230.1,1411 1267.5,1411 1272.1,1406.3 1300.2,1406.3 1304.9,1411 1332.9,1411 1337.6,1415.7 1365.6,1415.7 1370.4,1420.3 1389,1420.3 1393.8,1425 1431.1,1425 1435.7,1429.7 1454.5,1429.7 1459.1,1434.4 1487.2,1434.4 1491.9,1439 1510.6,1439 1515.2,1443.7 1557.4,1443.7 1562,1448.4 1655.5,1448.4 1660.1,1453 1702.2,1453 1706.9,1457.7 1725.6,1457.7 1730.2,1462.4 1758.4,1462.4 1763,1467.1 1786.4,1467.1 1791.1,1471.7 1814.5,1471.7 1819.1,1476.4 1982.8,1476.4 1987.4,1471.7 2188.5,1471.7 2193.1,1476.4 2244.5,1476.4 2249.2,1481.1 2286.6,1481.1 2291.2,1485.7 2328.8,1485.7 2333.4,1490.4 2366.1,1490.4 2375.5,1495.1 2422.2,1495.1 2431.5,1499.8 2469,1499.8 2473.6,1504.4 2529.8,1504.4 2534.4,1509.1 2599.9,1509.1 2604.5,1513.8 2684,1513.8 2688.6,1518.4 2810.2,1518.4 2814.9,1523.1 2964.5,1523.1"/>
</g>
</g>
<g id="legend">
<rect x="2039" y="175" width="145" height="16" rx="5" ry="8" fill="#416FA6"/>
<rect x="2039" y="289" width="145" height="15" rx="5" ry="7.5" fill="#A8423F"/>
<rect x="2039" y="406.9" width="145" height="15" rx="5" ry="7.5" fill="#FFC000"/>
<rect x="2039" y="524.9" width="145" height="15" rx="5" ry="7.5" fill="#6E548D"/>
<rect x="2039" y="642.9" width="145" height="15" rx="5" ry="7.5" fill="#3D96AE"/>
<rect x="2039" y="760.8" width="145" height="15" rx="5" ry="7.5" fill="#DA8137"/>
<rect x="2039" y="878.7" width="145" height="15" rx="5" ry="7.5" fill="#8EA5CB"/>
<text class="num" font-size="83" transform="translate(2200.8,209.5) scale(0.63,1)">a</text>
<text class="num" font-size="89.5" transform="translate(2200,327.2) scale(0.75,1)">b</text>
<text class="num" font-size="83" transform="translate(2200.6,444.9) scale(0.7,1)">c</text>
<text class="num" font-size="89.5" transform="translate(2200,562.6) scale(0.74,1)">d</text>
<text class="num" font-size="83" transform="translate(2200.6,680.3) scale(0.755,1)">e</text>
<text class="num" font-size="89.5" transform="translate(2200,798) scale(0.87,1)">f</text>
<text class="num" font-size="83" transform="translate(2200,915.7) scale(0.77,1)">g</text>
</g>
<g id="yticklabels">
<text class="num" font-size="87.6" text-anchor="end" transform="translate(267,84.2) scale(0.726,1)">6000</text>
<text class="num" font-size="87.6" text-anchor="end" transform="translate(267,329.9) scale(0.726,1)">5000</text>
<text class="num" font-size="87.6" text-anchor="end" transform="translate(267,575.7) scale(0.726,1)">4000</text>
<text class="num" font-size="87.6" text-anchor="end" transform="translate(267,822.5) scale(0.726,1)">3000</text>
<text class="num" font-size="87.6" text-anchor="end" transform="translate(267,1068.5) scale(0.726,1)">2000</text>
<text class="num" font-size="87.6" text-anchor="end" transform="translate(267,1314.7) scale(0.726,1)">1000</text>
<text class="num" font-size="87.6" text-anchor="end" transform="translate(267,1561.8) scale(0.726,1)">0</text>
</g>
<g id="xticklabels">
<text class="num" font-size="87.6" text-anchor="end" transform="translate(386.4,1713) scale(0.726,1)">200</text>
<text class="num" font-size="87.6" text-anchor="end" transform="translate(795.6,1713) scale(0.726,1)">300</text>
<text class="num" font-size="87.6" text-anchor="end" transform="translate(1204.8,1713) scale(0.726,1)">400</text>
<text class="num" font-size="87.6" text-anchor="end" transform="translate(1614,1713) scale(0.726,1)">500</text>
<text class="num" font-size="87.6" text-anchor="end" transform="translate(2023.2,1713) scale(0.726,1)">600</text>
<text class="num" font-size="87.6" text-anchor="end" transform="translate(2432.4,1713) scale(0.726,1)">700</text>
</g>
<text id="xtitle" class="ser" font-size="95" text-anchor="middle" transform="translate(1356.5,1827.6) scale(0.752,1)">Wavelength(nm)</text>
<text id="ytitle" class="ser" font-size="96.3" word-spacing="-8.5" text-anchor="middle" transform="translate(68,797) scale(0.732,1) rotate(-90)">Intensity (a.u.)</text>
</svg>
</body></html>
